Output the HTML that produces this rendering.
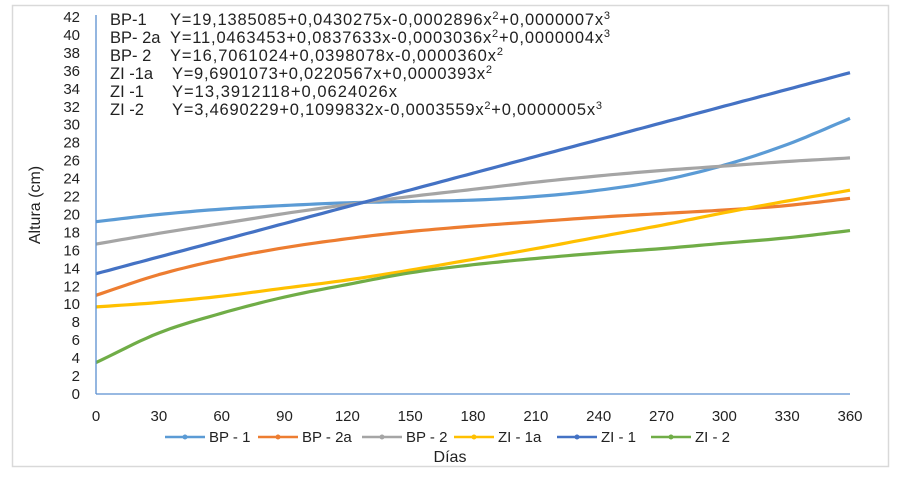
<!DOCTYPE html>
<html><head><meta charset="utf-8"><style>
body{margin:0;background:#fff;}
svg{display:block;font-family:"Liberation Sans",Arial,sans-serif;}
</style></head><body>
<svg id="s" width="902" height="481" xmlns="http://www.w3.org/2000/svg">
<rect x="0" y="0" width="902" height="481" fill="#fff"/>
<rect x="12.5" y="5.5" width="876" height="461" fill="none" stroke="#d9d9d9" stroke-width="1.5"/>
<g id="yt" font-size="15" fill="#222" text-anchor="end"></g>
<g id="xt" font-size="15" fill="#222" text-anchor="middle"></g>
<text x="40" y="205" font-size="16" fill="#222" text-anchor="middle" transform="rotate(-90 40 205)">Altura (cm)</text>
<text x="450" y="462" font-size="16" fill="#222" text-anchor="middle">Días</text>
<g id="series"></g>
<line x1="96" y1="15" x2="96" y2="394" stroke="#5b8fd0" stroke-width="1.3"/>
<line x1="96" y1="394" x2="850" y2="394" stroke="#5b8fd0" stroke-width="1.3"/>
<g font-size="16.5" fill="#222">
<text x="110" y="25">BP-1</text><text x="170" y="25" textLength="440">Y=19,1385085+0,0430275x-0,0002896x<tspan dy="-6" font-size="11">2</tspan><tspan dy="6">+0,0000007x</tspan><tspan dy="-6" font-size="11">3</tspan></text>
<text x="110" y="43">BP- 2a</text><text x="170" y="43" textLength="440">Y=11,0463453+0,0837633x-0,0003036x<tspan dy="-6" font-size="11">2</tspan><tspan dy="6">+0,0000004x</tspan><tspan dy="-6" font-size="11">3</tspan></text>
<text x="110" y="61">BP- 2</text><text x="170" y="61" textLength="333">Y=16,7061024+0,0398078x-0,0000360x<tspan dy="-6" font-size="11">2</tspan></text>
<text x="110" y="79">ZI -1a</text><text x="172" y="79" textLength="320">Y=9,6901073+0,0220567x+0,0000393x<tspan dy="-6" font-size="11">2</tspan></text>
<text x="110" y="97">ZI -1</text><text x="172" y="97" textLength="225">Y=13,3912118+0,0624026x</text>
<text x="110" y="115">ZI -2</text><text x="172" y="115" textLength="430">Y=3,4690229+0,1099832x-0,0003559x<tspan dy="-6" font-size="11">2</tspan><tspan dy="6">+0,0000005x</tspan><tspan dy="-6" font-size="11">3</tspan></text>
</g>
<g id="leg" font-size="15" fill="#222"></g>
</svg>
<script>
var NS="http://www.w3.org/2000/svg";
function el(t,a,p,txt){var e=document.createElementNS(NS,t);for(var k in a)e.setAttribute(k,a[k]);if(txt)e.textContent=txt;document.getElementById(p).appendChild(e);}
var Y=function(v){return 394-v*8.976;},X=function(d){return 96+d*754/360;};
for(var v=0;v<=42;v+=2)el("text",{x:80,y:Y(v)+5},"yt",""+v);
for(var d=0;d<=360;d+=30)el("text",{x:X(d),y:421},"xt",""+d);
var S=[
["BP - 1","#5b9bd5",[19.2,20.0,20.6,21.0,21.3,21.45,21.6,22.0,22.7,23.8,25.5,27.8,30.7]],
["BP - 2a","#ed7d31",[11.0,13.3,15.0,16.3,17.3,18.1,18.7,19.2,19.7,20.1,20.5,21.0,21.8]],
["BP - 2","#a5a5a5",[16.7,17.9,19.0,20.1,21.1,22.0,22.8,23.6,24.3,24.9,25.4,25.9,26.3]],
["ZI - 1a","#ffc000",[9.7,10.2,10.9,11.8,12.7,13.8,15.0,16.2,17.5,18.8,20.2,21.5,22.7]],
["ZI - 1","#4472c4",[13.4,15.27,17.13,19.0,20.87,22.73,24.6,26.47,28.33,30.2,32.07,33.93,35.8]],
["ZI - 2","#70ad47",[3.5,6.8,9.0,10.8,12.2,13.5,14.4,15.1,15.7,16.2,16.8,17.4,18.2]]];
var lx=[165,258,362,454,557,651];
S.forEach(function(s,i){var p=s[2].slice(),n=p.length;
 var q=[2*p[0]-p[1]].concat(p,[2*p[n-1]-p[n-2]]);
 var pts=[];
 for(var k=0;k<n-1;k++){var p0=q[k],p1=q[k+1],p2=q[k+2],p3=q[k+3];
  for(var t=0;t<1;t+=0.1){var t2=t*t,t3=t2*t;
   var v=0.5*((2*p1)+(-p0+p2)*t+(2*p0-5*p1+4*p2-p3)*t2+(-p0+3*p1-3*p2+p3)*t3);
   pts.push(X((k+t)*30).toFixed(1)+","+Y(v).toFixed(1));}}
 pts.push(X(360).toFixed(1)+","+Y(p[n-1]).toFixed(1));
 el("polyline",{points:pts.join(" "),fill:"none",stroke:s[1],"stroke-width":3.2,"stroke-linejoin":"round"},"series");
 var x=lx[i];el("line",{x1:x,y1:437,x2:x+40,y2:437,stroke:s[1],"stroke-width":2.5},"leg");
 el("circle",{cx:x+20,cy:437,r:2.5,fill:s[1]},"leg");
 el("text",{x:x+44,y:442},"leg",s[0]);
});
</script>
</body></html>
